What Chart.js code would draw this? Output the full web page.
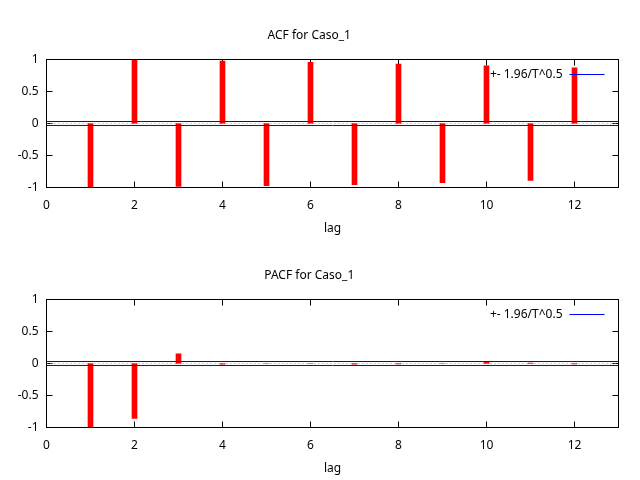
<!DOCTYPE html>
<html>
<head>
<meta charset="utf-8">
<script src="https://cdn.jsdelivr.net/npm/chart.js@4.4.0/dist/chart.umd.min.js"></script>
<style>
  html, body { margin: 0; padding: 0; background: #fff; }
  canvas { display: block; }
</style>
</head>
<body>
<canvas id="acf" width="640" height="240"></canvas>
<canvas id="pacf" width="640" height="240"></canvas>
<script>
// values
const lags = [1, 2, 3, 4, 5, 6, 7, 8, 9, 10, 11, 12];
const acfValues = [-1.0, 0.995, -0.985, 0.975, -0.97, 0.955, -0.955, 0.93, -0.925, 0.9, -0.89, 0.87];
const pacfValues = [-1.0, -0.86, 0.15, -0.01, 0.0, 0.0, -0.01, -0.005, 0.0, 0.02, 0.005, -0.005];
const bandLimit = 0.031;
const bandLabel = "+- 1.96/T^0.5";
const xTicks = [0, 2, 4, 6, 8, 10, 12];
const yTicks = [-1, -0.5, 0, 0.5, 1];
const xMin = 0, xMax = 13;

Chart.defaults.font.family = "'Noto Sans', sans-serif";
Chart.defaults.font.size = 12;
Chart.defaults.color = "#000";

// gnuplot-ish frame: inward ticks on all four sides, box, key at top right
const frameTicks = {
  id: "frameTicks",
  beforeDatasetsDraw(chart) {
    const { ctx, chartArea: a, scales: { x, y } } = chart;
    ctx.save();
    ctx.strokeStyle = "#000";
    ctx.lineWidth = 1;
    ctx.beginPath();
    xTicks.forEach(v => {
      const p = Math.floor(x.getPixelForValue(v)) + 0.5;
      ctx.moveTo(p, a.bottom); ctx.lineTo(p, a.bottom - 6);
      ctx.moveTo(p, a.top); ctx.lineTo(p, a.top + 6);
    });
    yTicks.forEach(v => {
      const p = Math.floor(y.getPixelForValue(v)) + 0.5;
      ctx.moveTo(a.left, p); ctx.lineTo(a.left + 6, p);
      ctx.moveTo(a.right, p); ctx.lineTo(a.right - 6, p);
    });
    ctx.stroke();
    ctx.restore();
  },
  afterDatasetsDraw(chart) {
    const { ctx, chartArea: a } = chart;
    ctx.save();
    ctx.strokeStyle = "#000";
    ctx.lineWidth = 1;
    ctx.strokeRect(Math.floor(a.left) + 0.5, Math.floor(a.top) + 0.5,
      Math.round(a.right - a.left), Math.round(a.bottom - a.top));
    const ds = chart.data.datasets.find(d => d.showKey);
    const ky = Math.floor(a.top + 15) + 0.5;
    ctx.font = "12px 'Noto Sans', sans-serif";
    ctx.fillStyle = "#000";
    ctx.textAlign = "right";
    ctx.textBaseline = "middle";
    ctx.fillText(ds.label, a.right - 56, ky);
    ctx.strokeStyle = ds.borderColor;
    ctx.beginPath();
    ctx.moveTo(a.right - 49, ky);
    ctx.lineTo(a.right - 14, ky);
    ctx.stroke();
    ctx.restore();
  }
};

function makePanel(id, title, values) {
  return new Chart(document.getElementById(id), {
    type: "bar",
    data: {
      datasets: [
        {
          type: "line", label: bandLabel, showKey: true,
          data: [{ x: xMin, y: bandLimit }, { x: xMax, y: bandLimit }],
          borderColor: "#0000ff", borderWidth: 1, pointRadius: 0, order: 0
        },
        {
          type: "line", label: "lower",
          data: [{ x: xMin, y: -bandLimit }, { x: xMax, y: -bandLimit }],
          borderColor: "#0000ff", borderWidth: 1, pointRadius: 0, order: 0
        },
        {
          type: "line", label: "zero",
          data: [{ x: xMin, y: 0 }, { x: xMax, y: 0 }],
          borderColor: "#a0a0a0", borderWidth: 1, borderDash: [1, 3],
          pointRadius: 0, order: 1
        },
        {
          label: title,
          data: lags.map((l, i) => ({ x: l, y: values[i] })),
          backgroundColor: "#ff0000", barThickness: 5, order: 2
        }
      ]
    },
    options: {
      responsive: false,
      animation: false,
      layout: { padding: { left: 0, right: 21.5, top: 0, bottom: 0 } },
      plugins: {
        legend: { display: false },
        tooltip: { enabled: false },
        title: {
          display: true, text: title, color: "#000",
          font: { size: 12, weight: "normal" },
          padding: { top: 28, bottom: 17.1 }
        }
      },
      scales: {
        x: {
          type: "linear", min: xMin, max: xMax, offset: false,
          grid: { display: false, drawTicks: false }, border: { display: false },
          afterBuildTicks: s => { s.ticks = xTicks.map(v => ({ value: v })); },
          afterFit: s => { s.height = 52.5; },
          ticks: { padding: 10.5, maxRotation: 0, autoSkip: false, callback: v => String(v) },
          title: { display: true, text: "lag", padding: { top: 0, bottom: 4 } }
        },
        y: {
          min: -1, max: 1,
          grid: { display: false, drawTicks: false }, border: { display: false },
          afterBuildTicks: s => { s.ticks = yTicks.map(v => ({ value: v })); },
          afterFit: s => { s.width = 46.5; },
          ticks: { padding: 8, callback: v => String(v) }
        }
      }
    },
    plugins: [frameTicks]
  });
}

makePanel("acf", "ACF for Caso_1", acfValues);
makePanel("pacf", "PACF for Caso_1", pacfValues);
</script>
</body>
</html>
